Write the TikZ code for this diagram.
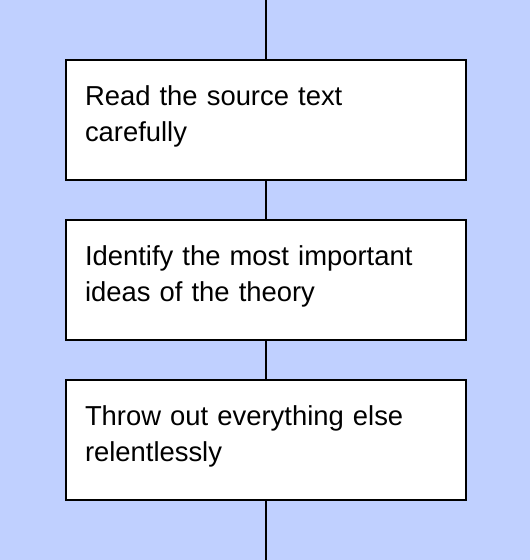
\documentclass[tikz,border=0pt]{standalone}
\usepackage{fontspec}
\setmainfont{Liberation Sans}
\definecolor{bgblue}{HTML}{C0D0FF}
\newcommand{\boxfont}{\fontsize{27.4pt}{36pt}\selectfont\hyphenpenalty=10000 \exhyphenpenalty=10000 }
\begin{document}
\begin{tikzpicture}[x=1pt,y=-1pt,
  stepbox/.style={draw=black, line width=2pt, fill=white, rectangle,
    minimum width=400pt, minimum height=120pt, text width=362pt,
    inner xsep=19pt, align=left, font=\boxfont,
    execute at end node={\rule[-12pt]{0pt}{0pt}}},
  link/.style={draw=black, line width=2pt}]
\fill[bgblue] (0,0) rectangle (530,560);
\useasboundingbox (0,0) rectangle (530,560);
\coordinate (top) at (266,0);
\coordinate (bot) at (266,560);
\node[stepbox] (s1) at (266,120) {Read the source text carefully};
\node[stepbox] (s2) at (266,280) {Identify the most important ideas of the theory};
\node[stepbox] (s3) at (266,440) {Throw out everything else relentlessly};
\draw[link] (top) -- (s1.north);
\draw[link] (s1.south) -- (s2.north);
\draw[link] (s2.south) -- (s3.north);
\draw[link] (s3.south) -- (bot);
\end{tikzpicture}
\end{document}
